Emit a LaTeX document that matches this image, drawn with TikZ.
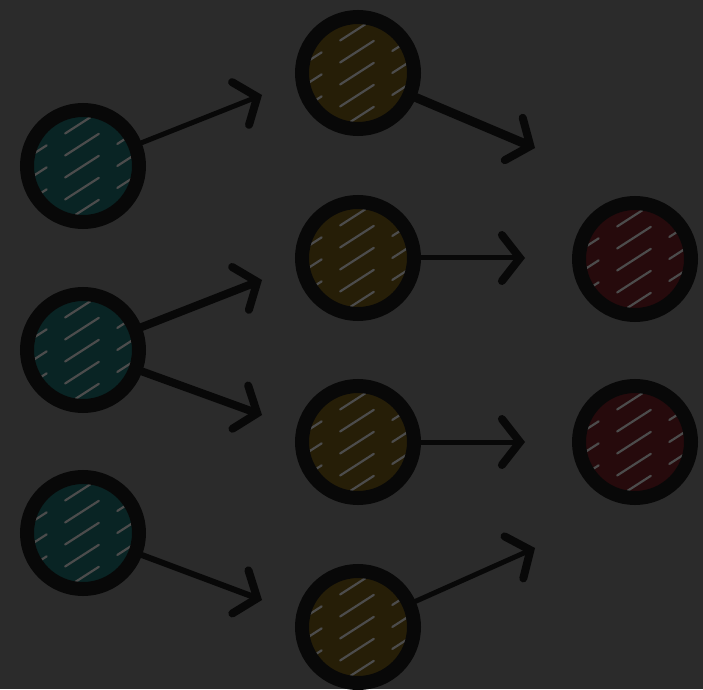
\documentclass[tikz,border=0pt]{standalone}
\usetikzlibrary{arrows.meta}
\definecolor{bgc}{HTML}{2B2B2B}
\definecolor{tealf}{HTML}{092424}
\definecolor{olivef}{HTML}{261E07}
\definecolor{redf}{HTML}{260A0C}
\definecolor{hatchc}{HTML}{4C4C4C}
\definecolor{inkc}{HTML}{080808}
\tikzset{
  ball/.style={circle, draw=inkc, line width=14pt, minimum size=112pt, inner sep=0pt,
    path picture={
      \foreach \k in {-3,...,3}{
        \draw[hatchc, line width=2.2pt, dash pattern=on 40pt off 22pt, line cap=round]
          ([shift={(-70pt,\k*22pt-45pt)}]path picture bounding box.center) -- ++(140pt,90pt);
      }
    }},
  conn/.style={draw=inkc, line cap=round, -{Straight Barb[length=18pt,width=46pt,line width=8pt,line cap=round]}},
}
\begin{document}
\begin{tikzpicture}[x=1pt,y=1pt]
\fill[bgc] (0,0) rectangle (703,689);
\useasboundingbox (0,0) rectangle (703,689);
% left column
\node[ball, fill=tealf] (t1) at (83,523) {};
\node[ball, fill=tealf] (t2) at (83,339) {};
\node[ball, fill=tealf] (t3) at (83,156) {};
% middle column
\node[ball, fill=olivef] (o1) at (358,616) {};
\node[ball, fill=olivef] (o2) at (358,431) {};
\node[ball, fill=olivef] (o3) at (358,247) {};
\node[ball, fill=olivef] (o4) at (358,62) {};
% right column
\node[ball, fill=redf] (r1) at (635,430) {};
\node[ball, fill=redf] (r2) at (635,247) {};
% free ends
\coordinate (e1) at (262,594);
\coordinate (e2) at (262,409);
\coordinate (e3) at (262,274);
\coordinate (e4) at (262,89);
\coordinate (e5) at (535,541);
\coordinate (e6) at (525,431);
\coordinate (e7) at (525,247);
\coordinate (e8) at (535,141);
\draw[conn, line width=5pt] (t1) -- (e1);
\draw[conn, line width=8pt] (t2) -- (e2);
\draw[conn, line width=8pt] (t2) -- (e3);
\draw[conn, line width=6pt] (t3) -- (e4);
\draw[conn, line width=9pt] (o1) -- (e5);
\draw[conn, line width=5pt] (o2) -- (e6);
\draw[conn, line width=5pt] (o3) -- (e7);
\draw[conn, line width=5pt] (o4) -- (e8);
\end{tikzpicture}
\end{document}
